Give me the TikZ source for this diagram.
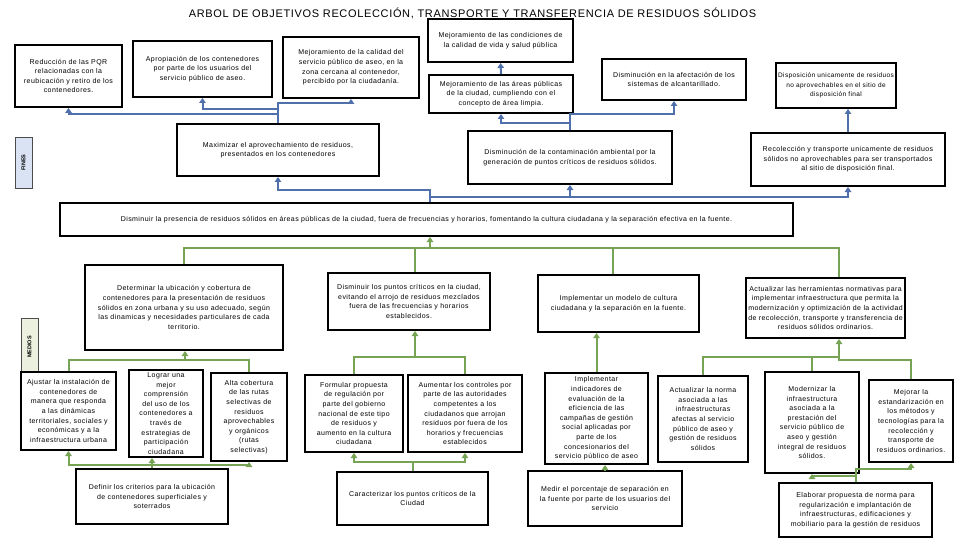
\documentclass[tikz,border=0pt]{standalone}
\usepackage{fontspec}
\setmainfont{Liberation Sans}
\newfontfamily\cajafamily[LetterSpace=6]{Liberation Sans}
\usetikzlibrary{arrows.meta}

\definecolor{FinBlue}{RGB}{79,112,170}
\definecolor{MedGreen}{RGB}{118,164,84}
\definecolor{FinFill}{RGB}{218,227,243}
\definecolor{MedFill}{RGB}{235,241,222}

\begin{document}
\begin{tikzpicture}[x=1pt, y=-1pt,
  caja/.style={draw, fill=white, line width=2pt, align=center, inner sep=2pt, font=\cajafamily\fontsize{7}{9.6}\selectfont},
  fin/.style={FinBlue, line width=2pt, -{Triangle[width=6.5pt,length=5pt]}},
  finline/.style={FinBlue, line width=2pt},
  med/.style={MedGreen, line width=2pt, -{Triangle[width=6.5pt,length=5pt]}},
  medline/.style={MedGreen, line width=2pt},
  etiqueta/.style={draw=black!70, line width=0.8pt, rotate=90, inner sep=0pt, font=\fontsize{5.5}{6}\selectfont\bfseries}]

\useasboundingbox (0,0) rectangle (960,540);

\node[font=\cajafamily\fontsize{11}{13}\selectfont] (titulo) at (472.5,13) {ARBOL DE OBJETIVOS RECOLECCIÓN, TRANSPORTE Y TRANSFERENCIA DE RESIDUOS SÓLIDOS};

% fines
\node[caja, minimum width=107, minimum height=62] (reduccion) at (68.5,76) {Reducción de las PQR\\relacionadas con la\\reubicación y retiro de los\\contenedores.};
\node[caja, minimum width=139, minimum height=56] (apropiacion) at (202.5,69) {Apropiación de los contenedores\\por parte de los usuarios del\\servicio público de aseo.};
\node[caja, minimum width=136, minimum height=61] (calidad) at (351,67.5) {Mejoramiento de la calidad del\\servicio público de aseo, en la\\zona cercana al contenedor,\\percibido por la ciudadanía.};
\node[caja, minimum width=145, minimum height=43] (salud) at (500.5,40.5) {Mejoramiento de las condiciones de\\la calidad de vida y salud pública};
\node[caja, minimum width=144, minimum height=38] (areas) at (501,94) {Mejoramiento de las áreas públicas\\de la ciudad, cumpliendo con el\\concepto de área limpia.};
\node[caja, minimum width=144, minimum height=41] (alcantarillado) at (674,79.5) {Disminución en la afectación de los\\sistemas de alcantarillado.};
\node[caja, font=\cajafamily\fontsize{6.5}{9.6}\selectfont, minimum width=118, minimum height=45] (disposicion) at (836,85.5) {Disposición unicamente de residuos\\no aprovechables en el sitio de\\disposición final};

\node[caja, minimum width=202, minimum height=52] (aprovechamiento) at (278,150) {Maximizar el aprovechamiento de residuos,\\presentados en los contenedores};
\node[caja, minimum width=204, minimum height=53] (contaminacion) at (570,157.5) {Disminución de la contaminación ambiental por la\\generación de puntos críticos de residuos sólidos.};
\node[caja, minimum width=194, minimum height=53] (recoleccion) at (848,159.5) {Recolección y transporte unicamente de residuos\\sólidos no aprovechables para ser transportados\\al sitio de disposición final.};
\node[etiqueta, fill=FinFill, minimum width=51, minimum height=17] (fines) at (23.5,162.5) {FINES};

\node[caja, minimum width=733, minimum height=33] (presencia) at (426.5,219.5) {Disminuir la presencia de residuos sólidos en áreas públicas de la ciudad, fuera de frecuencias y horarios, fomentando la cultura ciudadana y la separación efectiva en la fuente.};

\draw[fin] (aprovechamiento.north) -- ++(0,-9) -| (reduccion.south);
\draw[fin] (aprovechamiento.north) -- ++(0,-14) -| (apropiacion.south);
\draw[fin] (aprovechamiento.north) -- ++(0,-20) -| (calidad.south);
\draw[fin] (contaminacion.north) -- ++(0,-7) -| (areas.south);
\draw[fin] (contaminacion.north) -- ++(0,-16) -| (alcantarillado.south);
\draw[fin] (areas.north) -- (salud.south);
\draw[fin] (recoleccion.north) -- (recoleccion.north |- disposicion.south);

\coordinate (busfin) at (430,190);
\draw[fin] (presencia.north -| busfin) -- (busfin) -| (aprovechamiento.south);
\draw[fin] (busfin) ++(0,7) -| (contaminacion.south);
\draw[fin] (busfin) ++(0,7) -| (recoleccion.south);

% medios
\node[etiqueta, fill=MedFill, minimum width=58, minimum height=17] (medios) at (29.5,347) {MEDIOS};
\node[caja, minimum width=198, minimum height=85] (ubicacion) at (184,307.5) {Determinar la ubicación y cobertura de\\contenedores para la presentación de residuos\\sólidos en zona urbana y su uso adecuado, según\\las dinamicas y necesidades particulares de cada\\territorio.};
\node[caja, minimum width=162, minimum height=57] (puntos) at (409,301.5) {Disminuir los puntos críticos en la ciudad,\\evitando el arrojo de residuos mezclados\\fuera de las frecuencias y horarios\\establecidos.};
\node[caja, minimum width=161, minimum height=57] (cultura) at (618.5,303.5) {Implementar un modelo de cultura\\ciudadana y la separación en la fuente.};
\node[caja, minimum width=153, minimum height=60] (herramientas) at (825.5,308) {Actualizar las herramientas normativas para\\implementar infraestructura que permita la\\modernización y optimización de la actividad\\de recolección, transporte y transferencia de\\residuos sólidos ordinarios.};

\node[caja, minimum width=95, minimum height=78] (instalacion) at (68.5,411) {Ajustar la instalación de\\contenedores de\\manera que responda\\a las dinámicas\\territoriales, sociales y\\económicas y a la\\infraestructura urbana};
\node[caja, inner ysep=0pt, minimum width=74, minimum height=87] (comprension) at (166,413.5) {Lograr una\\mejor\\comprensión\\del uso de los\\contenedores a\\través de\\estrategias de\\participación\\ciudadana};
\node[caja, minimum width=76, minimum height=88] (rutas) at (249,417) {Alta cobertura\\de las rutas\\selectivas de\\residuos\\aprovechables\\y orgánicos\\(rutas\\selectivas)};
\node[caja, minimum width=98, minimum height=77] (regulacion) at (354,413.5) {Formular propuesta\\de regulación por\\parte del gobierno\\nacional de este tipo\\de residuos y\\aumento en la cultura\\ciudadana};
\node[caja, minimum width=114, minimum height=77] (controles) at (465,413.5) {Aumentar los controles por\\parte de las autoridades\\competentes a los\\ciudadanos que arrojan\\residuos por fuera de los\\horarios y frecuencias\\establecidos};
\node[caja, minimum width=103, minimum height=91] (indicadores) at (596.5,418.5) {Implementar\\indicadores de\\evaluación de la\\eficiencia de las\\campañas de gestión\\social aplicadas por\\parte de los\\concesionarios del\\servicio público de aseo};
\node[caja, minimum width=90, minimum height=86] (norma) at (703,419) {Actualizar la norma\\asociada a las\\infraestructuras\\afectas al servicio\\público de aseo y\\gestión de residuos\\sólidos};
\node[caja, minimum width=94, minimum height=101] (modernizar) at (812,422.5) {Modernizar la\\infraestructura\\asociada a la\\prestación del\\servicio público de\\aseo y gestión\\integral de residuos\\sólidos.};
\node[caja, minimum width=84, minimum height=82] (estandarizacion) at (911,421) {Mejorar la\\estandarización en\\los métodos y\\tecnologías para la\\recolección y\\transporte de\\residuos ordinarios.};

\node[caja, minimum width=152, minimum height=55] (criterios) at (152,496.5) {Definir los criterios para la ubicación\\de contenedores superficiales y\\soterrados};
\node[caja, minimum width=151, minimum height=53] (caracterizar) at (412.5,498.5) {Caracterizar los puntos críticos de la\\Ciudad};
\node[caja, minimum width=154, minimum height=55] (medir) at (605,498.5) {Medir el porcentaje de separación en\\la fuente por parte de los usuarios del\\servicio};
\node[caja, minimum width=153, minimum height=54] (elaborar) at (855.5,510) {Elaborar propuesta de norma para\\regularización e implantación de\\infraestructuras, edificaciones y\\mobiliario para la gestión de residuos};

\coordinate (busmed) at (430,248);
\coordinate (dpuntos) at (415,248);
\coordinate (dcultura) at (613,248);
\coordinate (dherr) at (839,248);
\draw[med] (busmed) -- (presencia.south -| busmed);
\draw[medline] (ubicacion.north) |- (busmed) -- (dherr) -- (dherr |- herramientas.north);
\draw[medline] (dpuntos) -- (dpuntos |- puntos.north);
\draw[medline] (dcultura) -- (dcultura |- cultura.north);

\coordinate (bubic) at (185,360);
\draw[med] (bubic) -- (bubic |- ubicacion.south);
\draw[medline] (instalacion.north) |- (bubic) -| (rutas.north);

\coordinate (bcrit) at (152,465);
\draw[medline] (criterios.north) -- (bcrit);
\draw[med] (bcrit) -| (instalacion.south);
\draw[med] (bcrit) -| (rutas.south);
\draw[med] (bcrit) -- (bcrit |- comprension.south);

\coordinate (bpuntos) at (415,357);
\draw[med] (bpuntos) -- (bpuntos |- puntos.south);
\draw[medline] (regulacion.north) |- (bpuntos) -| (controles.north);

\coordinate (bcarac) at (413,462);
\draw[medline] (caracterizar.north) -- (caracterizar.north |- bcarac);
\draw[med] (bcarac) -| (regulacion.south);
\draw[med] (bcarac) -| (controles.south);

\draw[med] (indicadores.north) -- (indicadores.north |- cultura.south);
\draw[med] (medir.north) -- (medir.north |- indicadores.south);

\coordinate (bherr) at (839,357);
\draw[med] (bherr) -- (bherr |- herramientas.south);
\draw[medline] (norma.north) |- (bherr);
\draw[medline] (modernizar.north) -- (modernizar.north |- bherr);
\draw[medline] (bherr) -- ++(0,3) -| (estandarizacion.north);

\draw[med] (elaborar.north) -- ++(0,-6) -| (modernizar.south);
\draw[med] (elaborar.north) -- ++(0,-13) -| (estandarizacion.south);

\end{tikzpicture}
\end{document}
